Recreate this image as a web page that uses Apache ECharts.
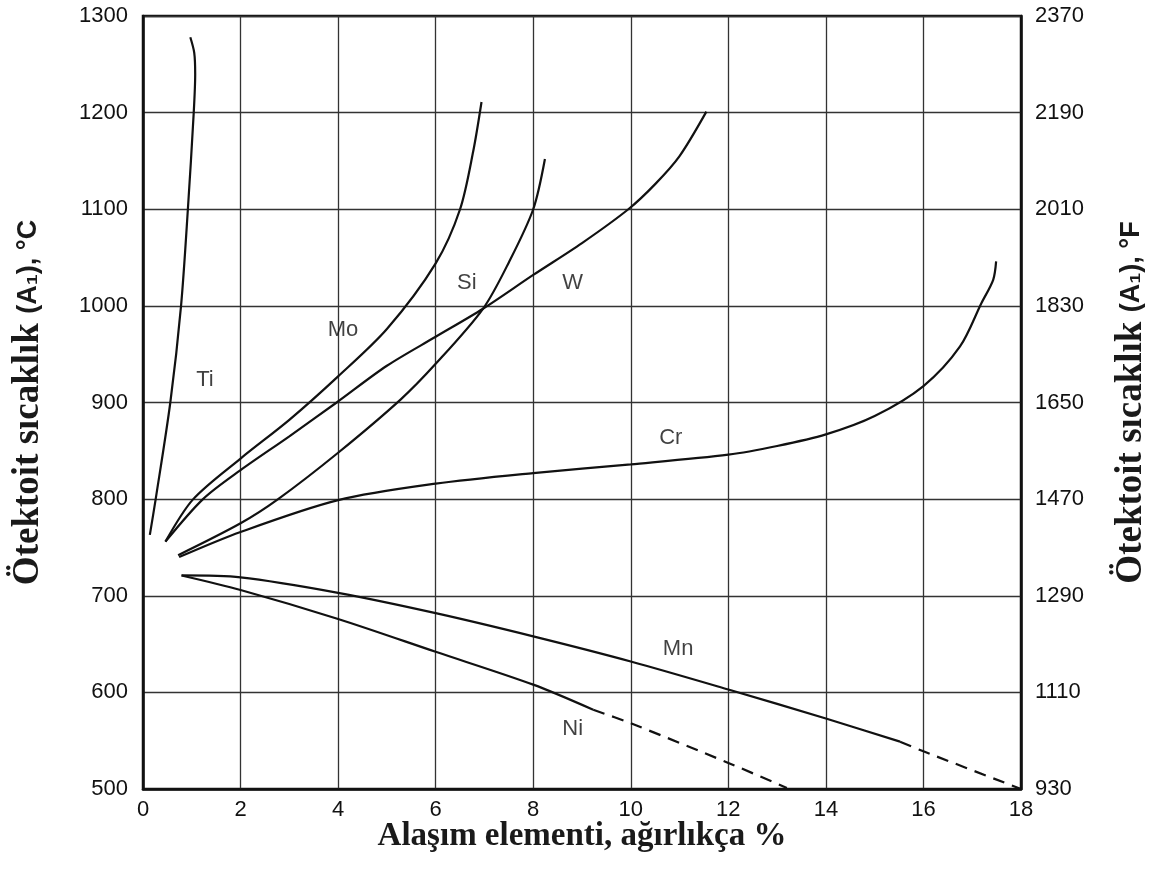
<!DOCTYPE html>
<html>
<head>
<meta charset="utf-8">
<script src="https://cdn.jsdelivr.net/npm/echarts@6/dist/echarts.min.js"></script>
<style>
html,body{margin:0;padding:0;background:#fff;}
#chart{width:1162px;height:876px;}
</style>
</head>
<body>
<div id="chart"></div>
<script>
// ---- Data (x: alloy element wt%, y: eutectoid temperature °C) ----
const xTicks = [0, 2, 4, 6, 8, 10, 12, 14, 16, 18];
const celsiusTicks = [500, 600, 700, 800, 900, 1000, 1100, 1200, 1300];
const fahrenheitTicks = [930, 1110, 1290, 1470, 1650, 1830, 2010, 2190, 2370];

const tiCurve = [[0.14,763],[0.26,800],[0.56,900],[0.78,1000],[0.92,1100],[1.04,1200],[1.07,1240],[1.05,1262],[0.97,1278]];
const moCurve = [[0.46,756],[1.03,800],[2,842],[3,882],[4,927],[5,976],[6,1044],[6.5,1100],[6.77,1160],[6.94,1211]];
const wCurve  = [[0.46,756],[1.23,800],[2,830],[3,865],[3.97,900],[5,938],[6,968],[6.97,997],[8,1032],[9,1065],[9.95,1100],[10.5,1126],[11,1155],[11.55,1201]];
const siCurve = [[0.72,742],[2,775],[2.77,800],[4,848],[5.28,903],[6,940],[6.97,997],[7.5,1045],[8,1100],[8.24,1152]];
const crCurve = [[0.74,740],[2,766],[4,799],[6,816],[8,827],[10,836],[12,846],[13,855],[14,867],[15,886],[16,917],[16.75,958],[17.19,1003],[17.43,1027],[17.49,1046]];
const mnSolid = [[0.79,721],[2,719],[4,703],[6,682],[8,658],[10,632],[12,603],[14,573],[15.52,549]];
const mnDashed = [[15.52,549],[16,539],[18,500]];
const niSolid = [[0.79,721],[2,706],[4,676],[6,642],[8,608],[9.23,582]];
const niDashed = [[9.23,582],[10,568],[12,527],[13.2,501]];

const curveLabels = ['Ti','Mo','Si','W','Cr','Mn','Ni'];
const curveLabelPos = [[1.27,923],[4.10,975],[6.64,1024],[8.81,1024],[10.82,863],[10.97,645],[8.81,562]];

// ---- Chart ----
const chart = echarts.init(document.getElementById('chart'));
const lineCol = '#111';
function curve(name, data, dashed) {
  return {
    name: name, type: 'line', data: data, symbol: 'none', smooth: 0.3,
    lineStyle: { color: lineCol, width: 2.2, type: dashed ? [12, 8] : 'solid' },
    silent: true, z: 3
  };
}
const tickFont = { fontFamily: 'Liberation Sans, Arial, sans-serif', fontSize: 22, color: '#111' };
const titleRich = {
  s: { fontFamily: 'Liberation Serif, Times New Roman, serif', fontWeight: 'bold', fontSize: 37, color: '#1a1a1a' },
  a: { fontFamily: 'Liberation Sans, Arial, sans-serif', fontWeight: 'bold', fontSize: 27, color: '#1a1a1a' }
};

chart.setOption({
  animation: false,
  backgroundColor: '#fff',
  grid: { left: 143, right: 141, top: 16, bottom: 87, show: true, borderColor: '#111', borderWidth: 2.5, backgroundColor: 'transparent' },
  xAxis: {
    type: 'value', min: xTicks[0], max: xTicks[xTicks.length - 1], interval: 2,
    axisLine: { show: true, lineStyle: { color: '#111', width: 2.5 } },
    axisTick: { show: false },
    axisLabel: Object.assign({ margin: 10, formatter: v => String(v) }, tickFont),
    splitLine: { show: true, lineStyle: { color: '#333', width: 1.3 } },
    name: 'Alaşım elementi, ağırlıkça %', nameLocation: 'middle', nameGap: 31, nameMoveOverlap: false,
    nameTextStyle: { fontFamily: 'Liberation Serif, Times New Roman, serif', fontWeight: 'bold', fontSize: 33, color: '#1a1a1a' }
  },
  yAxis: [
    {
      type: 'value', min: celsiusTicks[0], max: celsiusTicks[celsiusTicks.length - 1], interval: 100, position: 'left',
      axisLine: { show: true, lineStyle: { color: '#111', width: 2.5 } },
      axisTick: { show: false },
      axisLabel: Object.assign({ margin: 15, formatter: v => String(v) }, tickFont),
      splitLine: { show: true, lineStyle: { color: '#333', width: 1.3 } },
      name: '{s|Ötektoit sıcaklık }{a|(A₁), °C}', nameLocation: 'middle', nameGap: 96, nameRotate: 90, nameMoveOverlap: false,
      nameTextStyle: { rich: titleRich }
    },
    {
      type: 'value', min: celsiusTicks[0], max: celsiusTicks[celsiusTicks.length - 1], interval: 100, position: 'right',
      axisLine: { show: true, lineStyle: { color: '#111', width: 2.5 } },
      axisTick: { show: false },
      axisLabel: Object.assign({ margin: 14, formatter: v => String(fahrenheitTicks[Math.round((v - 500) / 100)]) }, tickFont),
      splitLine: { show: false },
      name: '{s|Ötektoit sıcaklık }{a|(A₁), °F}', nameLocation: 'middle', nameGap: 92, nameRotate: 90, nameMoveOverlap: false,
      nameTextStyle: { rich: titleRich }
    }
  ],
  series: [
    curve('Ti', tiCurve),
    curve('Mo', moCurve),
    curve('W', wCurve),
    curve('Si', siCurve),
    curve('Cr', crCurve),
    curve('Mn', mnSolid),
    curve('Mn-ext', mnDashed, true),
    curve('Ni', niSolid),
    curve('Ni-ext', niDashed, true),
    {
      type: 'scatter', silent: true, z: 4,
      symbol: 'circle', symbolSize: 1, itemStyle: { color: 'rgba(0,0,0,0)' },
      data: curveLabels.map((n, i) => ({ name: n, value: curveLabelPos[i] })),
      label: { show: true, position: 'inside', formatter: p => p.name,
        fontFamily: 'Liberation Sans, Arial, sans-serif', fontSize: 22, color: '#111' }
    }
  ]
});
</script>
</body>
</html>
